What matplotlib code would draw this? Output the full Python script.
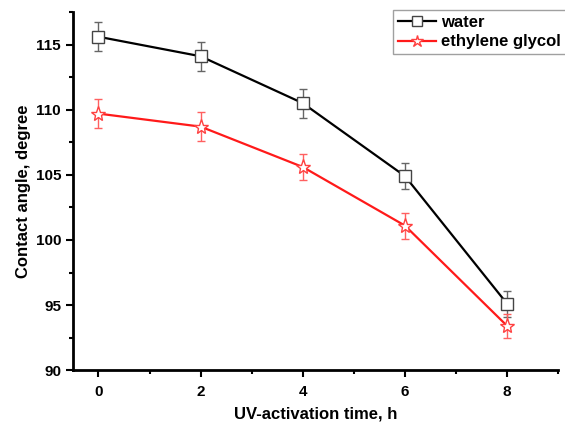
import numpy as np
import matplotlib
matplotlib.use('Agg')
import matplotlib.pyplot as plt
from matplotlib.ticker import MultipleLocator
from matplotlib.lines import Line2D

plt.rcParams['font.family'] = ['Liberation Sans', 'DejaVu Sans']
plt.rcParams['font.weight'] = 'bold'

# data
time_h = [0, 2, 4, 6, 8]
water = [115.6, 114.1, 110.5, 104.9, 95.1]
water_err = [1.1, 1.1, 1.1, 1.0, 1.0]
glycol = [109.7, 108.7, 105.6, 101.1, 93.4]
glycol_err = [1.1, 1.1, 1.0, 1.0, 0.9]

fig = plt.figure(figsize=(5.65, 4.28), dpi=100)
ax = fig.add_axes([0.129, 0.135, 0.859, 0.837])

water_style = dict(color='black', lw=1.6, marker='s', ms=8, mfc='white',
                   mec='#444444', mew=1.0)
glycol_style = dict(color='#ff1a1a', lw=1.6, marker='*', ms=11, mfc='white',
                    mec='#ff4040', mew=1.0)

ax.errorbar(time_h, water, yerr=water_err, ecolor='#666666', elinewidth=1.0,
            capsize=3, capthick=1.0, zorder=3, **water_style)
ax.errorbar(time_h, glycol, yerr=glycol_err, ecolor='#ff6060', elinewidth=1.0,
            capsize=3, capthick=1.0, zorder=3, **glycol_style)

ax.set_xlim(-0.5, 9)
ax.set_ylim(90, 117.5)
ax.xaxis.set_major_locator(MultipleLocator(2))
ax.xaxis.set_minor_locator(MultipleLocator(1))
ax.yaxis.set_major_locator(MultipleLocator(5))
ax.yaxis.set_minor_locator(MultipleLocator(2.5))
ax.set_xticks([0, 2, 4, 6, 8])

for s in ['top', 'right']:
    ax.spines[s].set_visible(False)
for s in ['left', 'bottom']:
    ax.spines[s].set_linewidth(2)

ax.tick_params(which='major', direction='out', length=5, width=1.5, labelsize=11)
ax.tick_params(which='minor', direction='out', length=3, width=1.5)
ax.tick_params(axis='x', pad=6)

ax.set_xlabel('UV-activation time, h', fontsize=12, fontweight='bold', labelpad=5)
ax.set_ylabel('Contact angle, degree', fontsize=12, fontweight='bold', labelpad=3)

handles = [Line2D([], [], **water_style), Line2D([], [], **glycol_style)]
leg = ax.legend(handles, ['water', 'ethylene glycol'], loc='upper right',
                bbox_to_anchor=(1.016, 1.005), fontsize=12,
                frameon=True, fancybox=False, edgecolor='#888888',
                borderpad=0.3, labelspacing=0.25, handlelength=2.3,
                handletextpad=0.3, borderaxespad=0.0, markerscale=0.85)
leg.get_frame().set_linewidth(1.0)

fig.savefig('out.png', dpi=100)
